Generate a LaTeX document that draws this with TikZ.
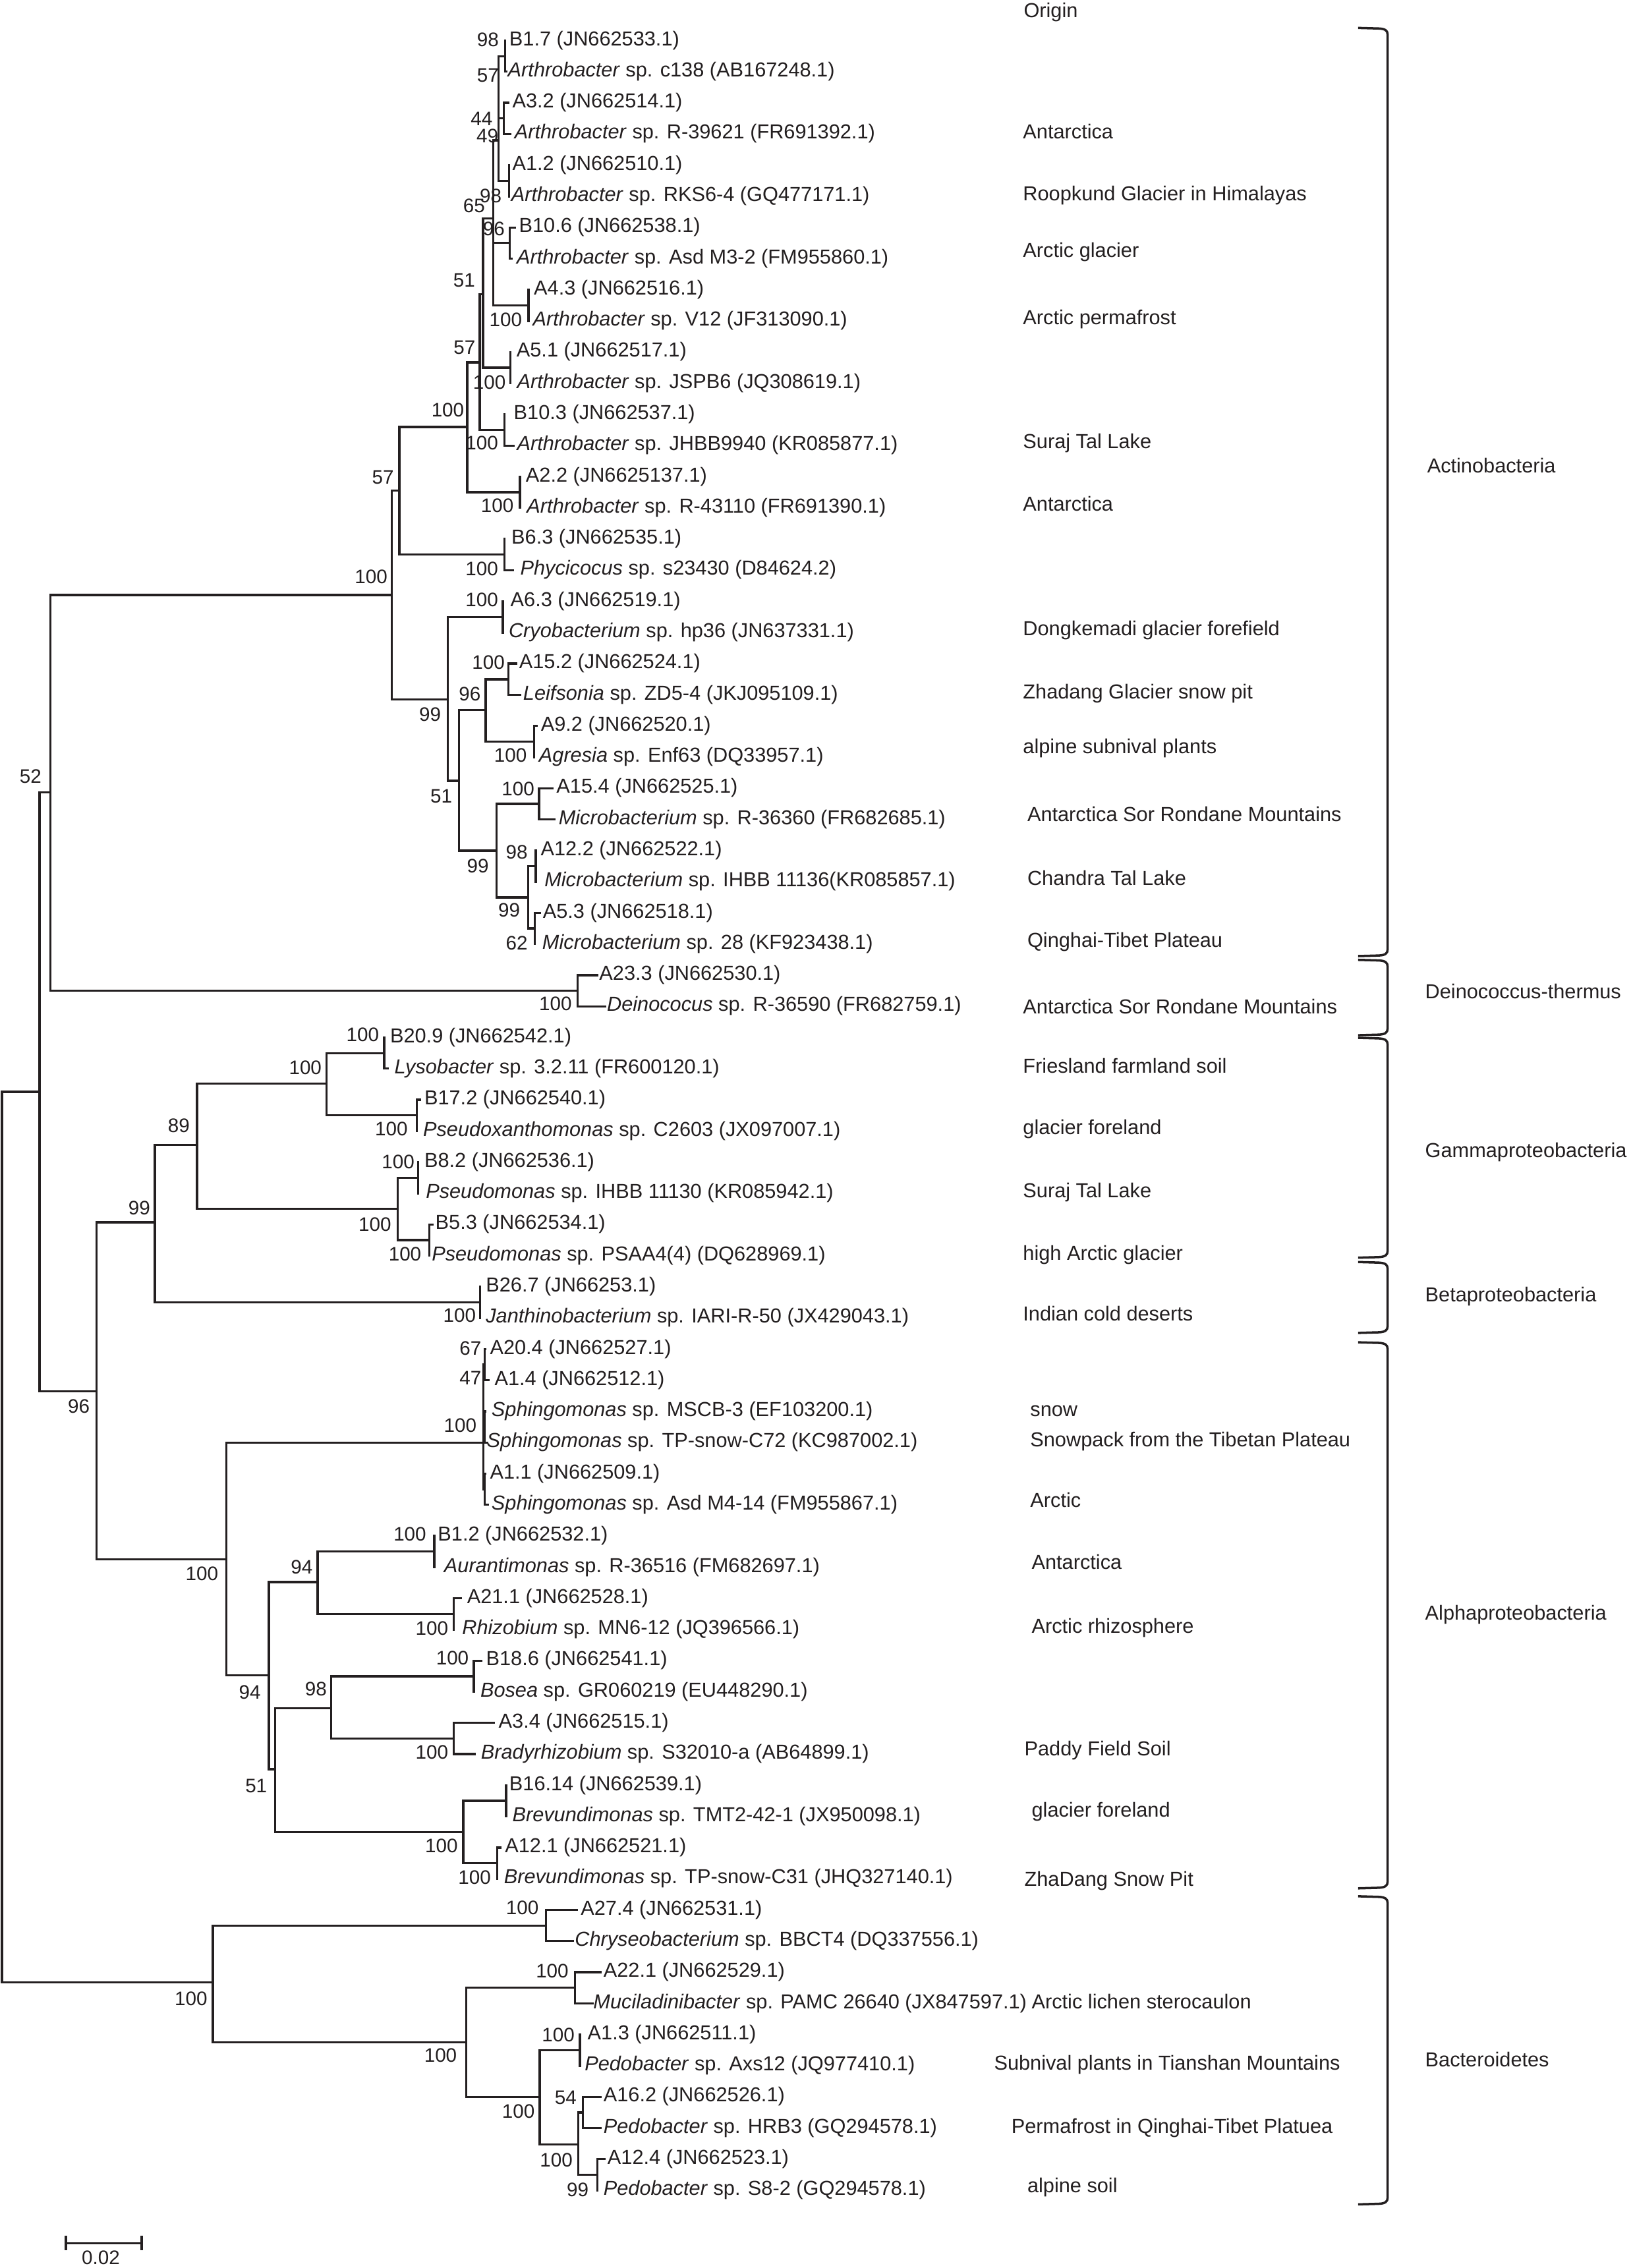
\documentclass[tikz,border=0pt]{standalone}
\usepackage{fontspec}
\setmainfont{Liberation Sans}
\definecolor{ink}{RGB}{35,31,32}
\pgfmathdeclarefunction{leafy}{1}{\pgfmathparse{28+21.54*(#1-1)}}
\tikzset{
  br/.style={draw=ink, line width=1.5pt, line join=miter, line cap=rect},
  brc/.style={draw=ink, line width=1.6pt, line join=round},
  lbl/.style={anchor=base west, inner sep=0pt, text=ink, font=\fontsize{14}{16}\selectfont},
  bs/.style={anchor=base east, inner sep=0pt, text=ink, font=\fontsize{13.5}{16}\selectfont},
  grp/.style={anchor=base west, inner sep=0pt, text=ink, font=\fontsize{14}{16}\selectfont},
}
\newcommand{\cladebrace}[2]{\draw[brc] (938.8,#1) -- (953,{#1+0.4}) .. controls (957.5,{#1+0.6}) and (959.2,{#1+1.8}) .. (959.2,{#1+4.5}) -- (959.2,{#2-4.5}) .. controls (959.2,{#2-1.8}) and (957.5,{#2-0.6}) .. (953,{#2-0.4}) -- (938.8,#2);}
\begin{document}
\begin{tikzpicture}[x=1pt,y=-1pt]
\useasboundingbox (0,0) rectangle (1128.4,1568);
% ---------- leaf tips ----------
\foreach \i/\x in {1/349.1,2/350.0,3/351.5,4/352.9,5/351.8,6/351.8,7/355.8,8/353.8,9/365.4,10/365.4,
 11/352.9,12/352.9,13/348.7,14/355.0,15/359.4,16/359.4,17/348.7,18/354.4,19/347.6,20/347.6,
 21/356.7,22/359.5,23/371.2,24/369.2,25/381.7,26/383.2,27/370.4,28/370.4,29/373.1,30/369.6,
 31/412.9,32/418.2,33/265.6,34/267.9,35/290.4,36/288.2,37/289.2,38/289.2,39/299.0,40/296.7,
 41/332.0,42/332.0,43/335.5,44/337.7,45/335.6,46/336.9,47/335.5,48/337.3,49/300.2,50/300.2,
 51/318.8,52/313.8,53/332.9,54/327.5,55/341.2,56/328.2,57/349.9,58/349.9,59/346.0,60/343.8,
 61/398.7,62/396.0,63/415.3,64/409.8,65/400.9,66/400.9,67/415.3,68/415.3,69/418.0,70/413.1}
 {\coordinate (L\i) at (\x,{leafy(\i)});}
% ---------- internal nodes ----------
\coordinate (root) at (1.3,1062);
\coordinate (nTop) at (27.3,754.9);
\coordinate (n52) at (34.9,547.9);
\coordinate (n57a) at (270.9,411.3);
\coordinate (n100a) at (276.0,339.2);
\coordinate (n57b) at (323.0,295.2);
\coordinate (nX4) at (331.7,250.5);
\coordinate (nX3) at (333.9,203.4);
\coordinate (nX2) at (340.9,151);
\coordinate (nX1) at (344.7,97);
\coordinate (nA) at (349.1,38.8);
\coordinate (nB) at (348.4,81.9);
\coordinate (nC) at (351.8,124.9);
\coordinate (nD) at (352.3,168.0);
\coordinate (nE) at (365.4,211.1);
\coordinate (nF) at (352.9,254.2);
\coordinate (nG) at (348.7,297.3);
\coordinate (nH) at (359.4,340.3);
\coordinate (nI) at (348.7,383.4);
\coordinate (n99a) at (309.7,483.7);
\coordinate (nJ) at (347.6,426.5);
\coordinate (n51a) at (317.2,539.8);
\coordinate (n96a) at (335.8,490.7);
\coordinate (nK) at (351.4,469.6);
\coordinate (nL) at (369.2,512.7);
\coordinate (n99b) at (343.3,588.1);
\coordinate (nM) at (372.6,555.7);
\coordinate (n99c) at (365.1,620.5);
\coordinate (n98) at (370.4,598.8);
\coordinate (n62) at (369.6,641.9);
\coordinate (nDe) at (399.2,685.0);
\coordinate (n96) at (66.8,961.9);
\coordinate (n99g) at (107.0,845.0);
\coordinate (n89) at (136.2,791.6);
\coordinate (n100g) at (225.7,749.1);
\coordinate (nLy) at (265.6,728.05);
\coordinate (nPx) at (288.2,771.13);
\coordinate (nPm) at (274.8,835.6);
\coordinate (nB8) at (289.2,814.21);
\coordinate (nB5) at (296.7,857.29);
\coordinate (nBe) at (332.0,900.37);
\coordinate (nAl) at (156.4,1078.0);
\coordinate (nSp) at (334.0,997.3);
\coordinate (nS1) at (334.9,943.45);
\coordinate (nS2) at (334.9,986.53);
\coordinate (nS3) at (334.9,1029.61);
\coordinate (n94b) at (185.8,1158.2);
\coordinate (n94a) at (219.6,1093.7);
\coordinate (nB12) at (300.2,1072.69);
\coordinate (nA21) at (313.8,1115.77);
\coordinate (n51b) at (190.2,1223.1);
\coordinate (n98b) at (229.0,1180.9);
\coordinate (nB18) at (327.5,1158.85);
\coordinate (nA34) at (313.8,1201.93);
\coordinate (n100b) at (320.3,1266.7);
\coordinate (nB16) at (349.9,1245.01);
\coordinate (nA12) at (343.8,1288.09);
\coordinate (nBa) at (147.1,1370.5);
\coordinate (nA27) at (377.5,1331.17);
\coordinate (n100c) at (322.3,1412.1);
\coordinate (nA22) at (397.4,1374.25);
\coordinate (n100d) at (373.1,1449.9);
\coordinate (nA13) at (400.9,1417.33);
\coordinate (n100e) at (399.6,1482.6);
\coordinate (n54) at (402.9,1460.41);
\coordinate (n99e) at (413.1,1503.49);
% ---------- branches ----------
\foreach \p/\c in {root/nTop,root/nBa,nTop/n52,nTop/n96,n52/n57a,n52/nDe,
 n57a/n100a,n57a/n99a,n100a/n57b,n100a/nI,n57b/nX4,n57b/nH,nX4/nX3,nX4/nG,
 nX3/nX2,nX3/nF,nX2/nX1,nX2/nD,nX2/nE,nX1/nA,nX1/nB,nX1/nC,
 nA/L1,nA/L2,nB/L3,nB/L4,nC/L5,nC/L6,nD/L7,nD/L8,nE/L9,nE/L10,nF/L11,nF/L12,
 nG/L13,nG/L14,nH/L15,nH/L16,nI/L17,nI/L18,
 n99a/nJ,n99a/n51a,nJ/L19,nJ/L20,n51a/n96a,n51a/n99b,n96a/nK,n96a/nL,
 nK/L21,nK/L22,nL/L23,nL/L24,n99b/nM,n99b/n99c,nM/L25,nM/L26,
 n99c/n98,n99c/n62,n98/L27,n98/L28,n62/L29,n62/L30,nDe/L31,nDe/L32,
 n96/n99g,n96/nAl,n99g/n89,n99g/nBe,n89/n100g,n89/nPm,n100g/nLy,n100g/nPx,
 nLy/L33,nLy/L34,nPx/L35,nPx/L36,nPm/nB8,nPm/nB5,nB8/L37,nB8/L38,nB5/L39,nB5/L40,
 nBe/L41,nBe/L42,nAl/nSp,nAl/n94b,nSp/nS1,nSp/nS2,nSp/nS3,
 nS1/L43,nS1/L44,nS2/L45,nS2/L46,nS3/L47,nS3/L48,
 n94b/n94a,n94b/n51b,n94a/nB12,n94a/nA21,nB12/L49,nB12/L50,nA21/L51,nA21/L52,
 n51b/n98b,n51b/n100b,n98b/nB18,n98b/nA34,nB18/L53,nB18/L54,nA34/L55,nA34/L56,
 n100b/nB16,n100b/nA12,nB16/L57,nB16/L58,nA12/L59,nA12/L60,
 nBa/nA27,nBa/n100c,nA27/L61,nA27/L62,n100c/nA22,n100c/n100d,nA22/L63,nA22/L64,
 n100d/nA13,n100d/n100e,nA13/L65,nA13/L66,n100e/n54,n100e/n99e,
 n54/L67,n54/L68,n99e/L69,n99e/L70}
 {\draw[br] (\p) |- (\c);}
% ---------- leaf names ----------
\node[lbl] (T1) at (351.9,{leafy(1)+3.5}) {B1.7 (JN662533.1)};
\node[lbl] (T2) at (350.9,{leafy(2)+3.5}) {\textit{Arthrobacter} sp. c138 (AB167248.1)};
\node[lbl] (T3) at (354.0,{leafy(3)+3.5}) {A3.2 (JN662514.1)};
\node[lbl] (T4) at (355.5,{leafy(4)+3.5}) {\textit{Arthrobacter} sp. R-39621 (FR691392.1)};
\node[lbl] (T5) at (354.0,{leafy(5)+3.5}) {A1.2 (JN662510.1)};
\node[lbl] (T6) at (353.2,{leafy(6)+3.5}) {\textit{Arthrobacter} sp. RKS6-4 (GQ477171.1)};
\node[lbl] (T7) at (358.6,{leafy(7)+3.5}) {B10.6 (JN662538.1)};
\node[lbl] (T8) at (357.0,{leafy(8)+3.5}) {\textit{Arthrobacter} sp. Asd M3-2 (FM955860.1)};
\node[lbl] (T9) at (368.9,{leafy(9)+3.5}) {A4.3 (JN662516.1)};
\node[lbl] (T10) at (368.2,{leafy(10)+3.5}) {\textit{Arthrobacter} sp. V12 (JF313090.1)};
\node[lbl] (T11) at (356.9,{leafy(11)+3.5}) {A5.1 (JN662517.1)};
\node[lbl] (T12) at (357.2,{leafy(12)+3.5}) {\textit{Arthrobacter} sp. JSPB6 (JQ308619.1)};
\node[lbl] (T13) at (355.0,{leafy(13)+3.5}) {B10.3 (JN662537.1)};
\node[lbl] (T14) at (357.2,{leafy(14)+3.5}) {\textit{Arthrobacter} sp. JHBB9940 (KR085877.1)};
\node[lbl] (T15) at (363.3,{leafy(15)+3.5}) {A2.2 (JN6625137.1)};
\node[lbl] (T16) at (364.0,{leafy(16)+3.5}) {\textit{Arthrobacter} sp. R-43110 (FR691390.1)};
\node[lbl] (T17) at (353.4,{leafy(17)+3.5}) {B6.3 (JN662535.1)};
\node[lbl] (T18) at (359.5,{leafy(18)+3.5}) {\textit{Phycicocus} sp. s23430 (D84624.2)};
\node[lbl] (T19) at (352.7,{leafy(19)+3.5}) {A6.3 (JN662519.1)};
\node[lbl] (T20) at (351.5,{leafy(20)+3.5}) {\textit{Cryobacterium} sp. hp36 (JN637331.1)};
\node[lbl] (T21) at (358.7,{leafy(21)+3.5}) {A15.2 (JN662524.1)};
\node[lbl] (T22) at (361.5,{leafy(22)+3.5}) {\textit{Leifsonia} sp. ZD5-4 (JKJ095109.1)};
\node[lbl] (T23) at (373.7,{leafy(23)+3.5}) {A9.2 (JN662520.1)};
\node[lbl] (T24) at (372.4,{leafy(24)+3.5}) {\textit{Agresia} sp. Enf63 (DQ33957.1)};
\node[lbl] (T25) at (384.5,{leafy(25)+3.5}) {A15.4 (JN662525.1)};
\node[lbl] (T26) at (386.0,{leafy(26)+3.5}) {\textit{Microbacterium} sp. R-36360 (FR682685.1)};
\node[lbl] (T27) at (373.6,{leafy(27)+3.5}) {A12.2 (JN662522.1)};
\node[lbl] (T28) at (376.2,{leafy(28)+3.5}) {\textit{Microbacterium} sp. IHBB 11136(KR085857.1)};
\node[lbl] (T29) at (375.1,{leafy(29)+3.5}) {A5.3 (JN662518.1)};
\node[lbl] (T30) at (374.7,{leafy(30)+3.5}) {\textit{Microbacterium} sp. 28 (KF923438.1)};
\node[lbl] (T31) at (414.1,{leafy(31)+3.5}) {A23.3 (JN662530.1)};
\node[lbl] (T32) at (419.4,{leafy(32)+3.5}) {\textit{Deinococus} sp. R-36590 (FR682759.1)};
\node[lbl] (T33) at (269.5,{leafy(33)+3.5}) {B20.9 (JN662542.1)};
\node[lbl] (T34) at (272.5,{leafy(34)+3.5}) {\textit{Lysobacter} sp. 3.2.11 (FR600120.1)};
\node[lbl] (T35) at (293.2,{leafy(35)+3.5}) {B17.2 (JN662540.1)};
\node[lbl] (T36) at (292.3,{leafy(36)+3.5}) {\textit{Pseudoxanthomonas} sp. C2603 (JX097007.1)};
\node[lbl] (T37) at (293.2,{leafy(37)+3.5}) {B8.2 (JN662536.1)};
\node[lbl] (T38) at (294.2,{leafy(38)+3.5}) {\textit{Pseudomonas} sp. IHBB 11130 (KR085942.1)};
\node[lbl] (T39) at (300.8,{leafy(39)+3.5}) {B5.3 (JN662534.1)};
\node[lbl] (T40) at (298.3,{leafy(40)+3.5}) {\textit{Pseudomonas} sp. PSAA4(4) (DQ628969.1)};
\node[lbl] (T41) at (335.7,{leafy(41)+3.5}) {B26.7 (JN66253.1)};
\node[lbl] (T42) at (335.7,{leafy(42)+3.5}) {\textit{Janthinobacterium} sp. IARI-R-50 (JX429043.1)};
\node[lbl] (T43) at (338.5,{leafy(43)+3.5}) {A20.4 (JN662527.1)};
\node[lbl] (T44) at (341.7,{leafy(44)+3.5}) {A1.4 (JN662512.1)};
\node[lbl] (T45) at (339.6,{leafy(45)+3.5}) {\textit{Sphingomonas} sp. MSCB-3 (EF103200.1)};
\node[lbl] (T46) at (336.3,{leafy(46)+3.5}) {\textit{Sphingomonas} sp. TP-snow-C72 (KC987002.1)};
\node[lbl] (T47) at (338.5,{leafy(47)+3.5}) {A1.1 (JN662509.1)};
\node[lbl] (T48) at (339.6,{leafy(48)+3.5}) {\textit{Sphingomonas} sp. Asd M4-14 (FM955867.1)};
\node[lbl] (T49) at (302.5,{leafy(49)+3.5}) {B1.2 (JN662532.1)};
\node[lbl] (T50) at (306.8,{leafy(50)+3.5}) {\textit{Aurantimonas} sp. R-36516 (FM682697.1)};
\node[lbl] (T51) at (322.7,{leafy(51)+3.5}) {A21.1 (JN662528.1)};
\node[lbl] (T52) at (319.3,{leafy(52)+3.5}) {\textit{Rhizobium} sp. MN6-12 (JQ396566.1)};
\node[lbl] (T53) at (335.8,{leafy(53)+3.5}) {B18.6 (JN662541.1)};
\node[lbl] (T54) at (331.9,{leafy(54)+3.5}) {\textit{Bosea} sp. GR060219 (EU448290.1)};
\node[lbl] (T55) at (344.5,{leafy(55)+3.5}) {A3.4 (JN662515.1)};
\node[lbl] (T56) at (332.3,{leafy(56)+3.5}) {\textit{Bradyrhizobium} sp. S32010-a (AB64899.1)};
\node[lbl] (T57) at (351.9,{leafy(57)+3.5}) {B16.14 (JN662539.1)};
\node[lbl] (T58) at (354.0,{leafy(58)+3.5}) {\textit{Brevundimonas} sp. TMT2-42-1 (JX950098.1)};
\node[lbl] (T59) at (348.9,{leafy(59)+3.5}) {A12.1 (JN662521.1)};
\node[lbl] (T60) at (348.2,{leafy(60)+3.5}) {\textit{Brevundimonas} sp. TP-snow-C31 (JHQ327140.1)};
\node[lbl] (T61) at (401.3,{leafy(61)+3.5}) {A27.4 (JN662531.1)};
\node[lbl] (T62) at (397.2,{leafy(62)+3.5}) {\textit{Chryseobacterium} sp. BBCT4 (DQ337556.1)};
\node[lbl] (T63) at (417.0,{leafy(63)+3.5}) {A22.1 (JN662529.1)};
\node[lbl] (T64) at (410.0,{leafy(64)+3.5}) {\textit{Muciladinibacter} sp. PAMC 26640 (JX847597.1)};
\node[lbl] (T65) at (406.0,{leafy(65)+3.5}) {A1.3 (JN662511.1)};
\node[lbl] (T66) at (404.0,{leafy(66)+3.5}) {\textit{Pedobacter} sp. Axs12 (JQ977410.1)};
\node[lbl] (T67) at (417.0,{leafy(67)+3.5}) {A16.2 (JN662526.1)};
\node[lbl] (T68) at (417.0,{leafy(68)+3.5}) {\textit{Pedobacter} sp. HRB3 (GQ294578.1)};
\node[lbl] (T69) at (419.8,{leafy(69)+3.5}) {A12.4 (JN662523.1)};
\node[lbl] (T70) at (417.0,{leafy(70)+3.5}) {\textit{Pedobacter} sp. S8-2 (GQ294578.1)};
% ---------- bootstrap values ----------
\foreach \x/\y/\v [count=\k] in {345.0/27.3/98,345.0/51.6/57,340.6/82.0/44,344.6/93.4/49,346.9/135.1/98,
 335.4/141.9/65,349.1/157.9/96,328.6/193.5/51,361.0/220.9/100,328.8/239.8/57,349.8/264.1/100,
 321.0/283.1/100,344.5/305.8/100,272.4/329.4/57,355.2/349.1/100,344.5/393.1/100,268.0/398.5/100,
 344.5/414.4/100,349.1/457.4/100,332.4/479.5/96,305.0/493.4/99,364.3/521.8/100,369.6/545.2/100,
 312.7/550.3/51,364.9/588.8/98,338.0/598.4/99,359.7/629.0/99,364.9/651.5/62,395.4/693.8/100,
 28.8/536.4/52,62.2/971.8/96,104.0/835.0/99,131.3/778.0/89,262.2/714.9/100,222.5/737.7/100,
 282.0/780.2/100,286.7/803.0/100,270.6/846.2/100,291.4/866.7/100,329.1/909.2/100,
 332.9/932.0/67,332.9/952.5/47,329.6/985.1/100,151.0/1087.6/100,294.8/1060.2/100,
 216.3/1083.1/94,310.0/1125.5/100,324.2/1146.0/100,180.4/1169.5/94,226.1/1167.3/98,
 310.0/1211.3/100,184.8/1234.1/51,316.6/1275.8/100,339.5/1297.8/100,
 372.5/1318.4/100,143.5/1381.5/100,393.2/1362.3/100,316.0/1420.8/100,397.4/1406.4/100,
 398.7/1450.0/54,369.8/1459.4/100,396.0/1492.9/100,407.0/1513.6/99}
 {\node[bs] (bv\k) at (\x,{\y+5}) {\v};}
% ---------- origins ----------
\node[lbl] (hdr) at (707.5,12) {Origin};
\foreach \x/\y/\t [count=\k] in {707/91.1/Antarctica,707/133.5/Roopkund Glacier in Himalayas,
 707/173/Arctic glacier,707/219.5/Arctic permafrost,707/305/Suraj Tal Lake,707/348.5/Antarctica,
 707/434.5/Dongkemadi glacier forefield,707/478/Zhadang Glacier snow pit,707/516/alpine subnival plants,
 710/563/Antarctica Sor Rondane Mountains,710/607/Chandra Tal Lake,710/650/Qinghai-Tibet Plateau,
 707/696/Antarctica Sor Rondane Mountains,707/737/Friesland farmland soil,707/779/glacier foreland,
 707/823/Suraj Tal Lake,707/866/high Arctic glacier,707/908/Indian cold deserts,712/974/snow,
 712/995/Snowpack from the Tibetan Plateau,712/1037/Arctic,713/1080/Antarctica,
 713/1124/Arctic rhizosphere,708/1209/Paddy Field Soil,713/1251/glacier foreland,
 708/1299/ZhaDang Snow Pit,713/1383.5/Arctic lichen sterocaulon,
 687/1426/Subnival plants in Tianshan Mountains,699/1470/Permafrost in Qinghai-Tibet Platuea,
 710/1511/alpine soil}
 {\node[lbl] (or\k) at (\x,{\y+5}) {\t};}
% ---------- clade braces ----------
\cladebrace{19.3}{661}
\cladebrace{663.6}{715.7}
\cladebrace{717.5}{869.5}
\cladebrace{872.5}{921.5}
\cladebrace{928}{1305.5}
\cladebrace{1311}{1524}
\node[grp] (g1) at (986.4,326.8) {Actinobacteria};
\node[grp] (g2) at (985.0,690.3) {Deinococcus-thermus};
\node[grp] (g3) at (985.0,800) {Gammaproteobacteria};
\node[grp] (g4) at (985.0,900) {Betaproteobacteria};
\node[grp] (g5) at (985.0,1120) {Alphaproteobacteria};
\node[grp] (g6) at (985.0,1429) {Bacteroidetes};
% ---------- scale bar ----------
\coordinate (sbA) at (45.5,1550.8);
\coordinate (sbB) at (98,1550.8);
\draw[br] (sbA) -- (sbB);
\draw[br] ([yshift=-4.3pt]sbA) -- ([yshift=4.5pt]sbA);
\draw[br] ([yshift=-4.3pt]sbB) -- ([yshift=4.5pt]sbB);
\node[anchor=base, inner sep=0pt, text=ink, font=\fontsize{13.5}{16}\selectfont] (sbt) at (69.7,1565.5) {0.02};
\end{tikzpicture}
\end{document}
